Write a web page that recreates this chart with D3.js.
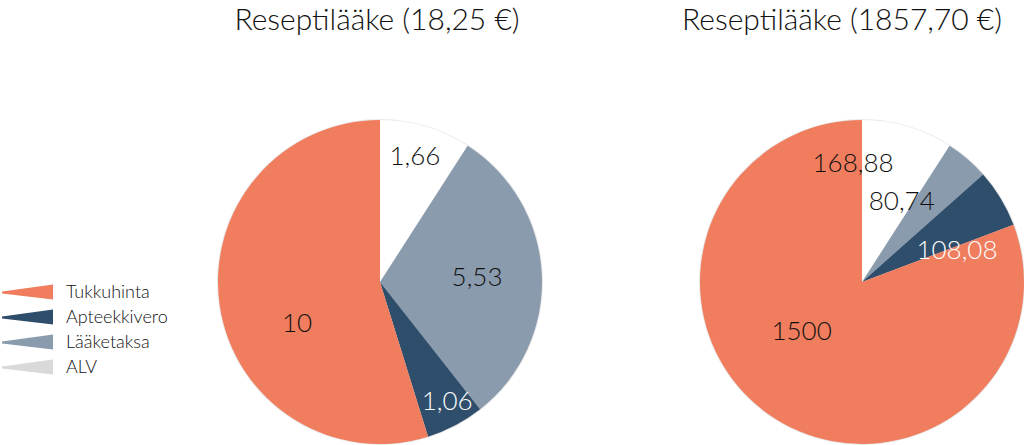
<!DOCTYPE html>
<html>
<head>
<meta charset="utf-8">
<script src="https://cdn.jsdelivr.net/npm/d3@7"></script>
<style>
  html, body { margin: 0; padding: 0; background: #fff; }
  svg { display: block; font-family: Lato, "Open Sans", sans-serif; font-weight: 300; }
</style>
</head>
<body>
<svg width="1024" height="445"></svg>
<script>
// categories in drawing order (clockwise from 12 o'clock)
const categories = ["ALV", "Lääketaksa", "Apteekkivero", "Tukkuhinta"];
const legendOrder = ["Tukkuhinta", "Apteekkivero", "Lääketaksa", "ALV"];

const cheapValues = [1.66, 5.53, 1.06, 10];
const expensiveValues = [168.88, 80.74, 108.08, 1500];
const titles = ["Reseptilääke (18,25 €)", "Reseptilääke (1857,70 €)"];

const color = d3.scaleOrdinal()
  .domain(categories)
  .range(["#ffffff", "#8a9bae", "#2e4e6b", "#ef7d5e"]);
const legendColor = d3.scaleOrdinal()
  .domain(categories)
  .range(["#d9d9d9", "#8a9bae", "#2e4e6b", "#ef7d5e"]);
const textColor = { ALV: "#111", "Lääketaksa": "#111", Apteekkivero: "#fff", Tukkuhinta: "#111" };

// label placement: [angle in degrees, fraction of radius]
const cheapLabelPos = [[15.4, 0.81], [87, 0.6], [150.4, 0.84], [244, 0.57]];
const expensiveLabelPos = [[-4.3, 0.74], [26, 0.56], [71, 0.62], [231, 0.48]];

const fmt = v => String(v).replace(".", ",");

const svg = d3.select("svg");
const radius = 162;

const pie = d3.pie().sort(null).value(d => d.value);
const arc = d3.arc().innerRadius(0).outerRadius(radius);

function drawPie(values, labelPos, cx, cy, title, titleX) {
  const data = categories.map((c, i) => ({ name: c, value: values[i] }));
  const g = svg.append("g").attr("transform", `translate(${cx},${cy})`);

  g.append("circle").attr("r", radius + 1).attr("fill", "#e8e8e8");

  g.selectAll("path")
    .data(pie(data))
    .enter()
    .append("path")
    .attr("d", arc)
    .attr("fill", d => color(d.data.name));

  g.selectAll(".lbl")
    .data(data)
    .enter()
    .append("text")
    .attr("class", "lbl")
    .attr("x", (d, i) => radius * labelPos[i][1] * Math.sin(labelPos[i][0] * Math.PI / 180))
    .attr("y", (d, i) => -radius * labelPos[i][1] * Math.cos(labelPos[i][0] * Math.PI / 180))
    .attr("dy", "0.36em")
    .attr("text-anchor", "middle")
    .style("font-size", "26px")
    .attr("fill", d => textColor[d.name])
    .text(d => fmt(d.value));

  svg.append("text")
    .attr("x", titleX)
    .attr("y", 30)
    .attr("text-anchor", "middle")
    .style("font-size", "30px")
    .attr("fill", "#111")
    .text(title);
}

drawPie(cheapValues, cheapLabelPos, 380, 282, titles[0], 377);
drawPie(expensiveValues, expensiveLabelPos, 862, 282, titles[1], 842);

// legend
const legend = svg.append("g").attr("transform", "translate(0,292)");
const row = legend.selectAll("g")
  .data(legendOrder)
  .enter()
  .append("g")
  .attr("transform", (d, i) => `translate(0,${i * 25})`);

row.append("path")
  .attr("d", "M2,-0.5 L53,-7.5 L53,7.5 L2,1.5 Z")
  .attr("fill", d => legendColor(d));

row.append("text")
  .attr("x", 66)
  .attr("y", 0)
  .attr("dy", "0.35em")
  .style("font-size", "18px")
  .attr("fill", "#111")
  .text(d => d);
</script>
</body>
</html>
